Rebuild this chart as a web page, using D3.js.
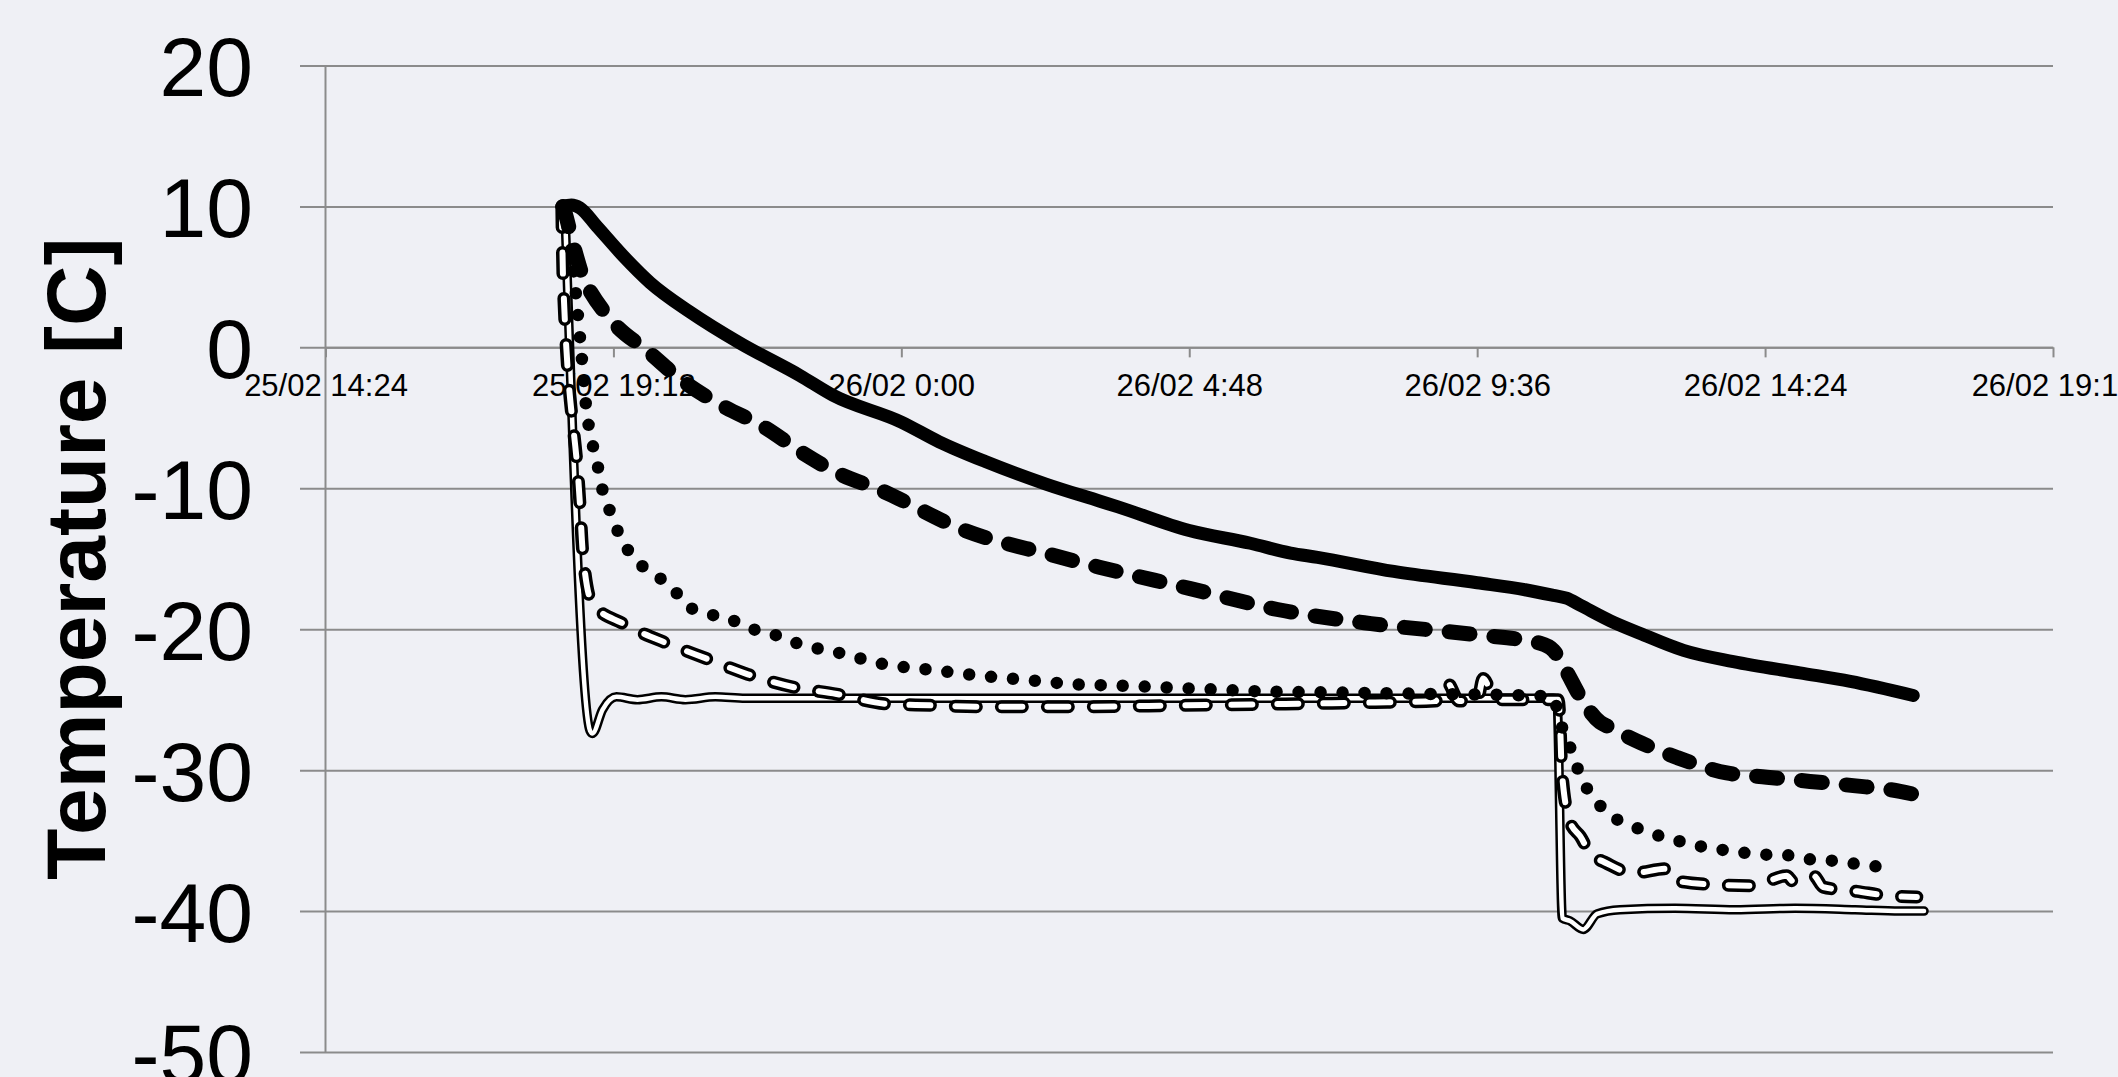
<!DOCTYPE html>
<html>
<head>
<meta charset="utf-8">
<script src="https://cdn.jsdelivr.net/npm/d3@7"></script>
<style>
  html, body { margin: 0; padding: 0; overflow: hidden; background: #eff0f5; }
  svg { display: block; }
</style>
</head>
<body>
<svg id="chart" width="2118" height="1077"></svg>
<script>
// ---------- DATA (time in hours since 25/02 14:24, temperature in °C) ----------
const xTickHours = [0, 4.8, 9.6, 14.4, 19.2, 24, 28.8];
const xTickLabels = ["25/02 14:24", "25/02 19:12", "26/02 0:00", "26/02 4:48", "26/02 9:36", "26/02 14:24", "26/02 19:12"];
const yTickValues = [20, 10, 0, -10, -20, -30, -40, -50];
const yTickLabels = ["20", "10", "0", "-10", "-20", "-30", "-40", "-50"];
const yTitle = "Temperature [C]";

// thick solid line
const seriesSolid = [[3.94,10.0],[4.1,10.1],[4.24,9.9],[4.52,8.6],[4.96,6.5],[5.41,4.6],[6.08,2.5],[6.91,0.3],[7.91,-2.0],[8.46,-3.4],[9.6,-5.3],[10.23,-6.7],[11.0,-8.1],[12.01,-9.7],[12.9,-10.9],[13.2,-11.3],[14.4,-13.0],[15.42,-13.9],[16.09,-14.6],[16.54,-14.9],[17.81,-15.9],[19.2,-16.7],[20.0,-17.2],[20.47,-17.6],[20.69,-17.8],[20.92,-18.3],[21.42,-19.4],[21.92,-20.3],[22.64,-21.5],[23.47,-22.3],[24.58,-23.1],[25.42,-23.7],[26.47,-24.7]];
// thick dashed line
const seriesDashed = [[3.96,10.0],[3.99,9.6],[4.13,7.3],[4.33,4.6],[4.41,4.0],[4.79,1.8],[5.38,-0.3],[5.96,-2.4],[6.64,-4.2],[7.29,-5.6],[7.96,-7.5],[8.53,-8.9],[9.29,-10.2],[9.49,-10.6],[10.6,-12.9],[12.08,-14.7],[12.9,-15.6],[14.4,-17.1],[15.87,-18.6],[17.43,-19.6],[19.2,-20.4],[20.25,-21.0],[20.47,-21.5],[20.69,-23.0],[20.92,-24.8],[21.25,-26.6],[21.38,-26.9],[21.95,-28.1],[22.53,-29.1],[23.36,-30.2],[24.03,-30.5],[24.75,-30.8],[25.47,-31.1],[26.25,-31.5],[26.47,-31.7]];
// dotted line
const seriesDotted = [[3.96,10.0],[4.10,6.8],[4.19,3.1],[4.27,-0.6],[4.35,-4.4],[4.41,-6.1],[4.52,-8.0],[4.60,-9.8],[4.74,-11.6],[4.91,-13.4],[5.13,-14.9],[5.44,-16.0],[5.77,-17.0],[6.02,-18.3],[6.38,-18.9],[6.74,-19.3],[7.13,-20.0],[7.49,-20.4],[7.86,-21.0],[8.58,-21.7],[9.33,-22.5],[10.13,-22.9],[10.91,-23.3],[11.69,-23.6],[12.46,-23.9],[13.21,-24.0],[14.4,-24.2],[15.5,-24.4],[17.0,-24.5],[18.5,-24.6],[20.0,-24.7],[20.45,-24.8],[20.61,-26.9],[20.78,-28.7],[20.92,-30.4],[21.15,-32.0],[21.42,-33.2],[21.75,-33.9],[22.11,-34.5],[22.45,-34.9],[22.8,-35.3],[23.19,-35.6],[23.55,-35.8],[23.92,-36.0],[24.28,-36.0],[24.67,-36.3],[25.06,-36.4],[25.42,-36.6],[25.78,-36.8],[26.14,-36.9]];
// hollow dashed line
const seriesHollowDashed = [[3.94,10.0],[3.96,5.0],[4.24,-11.0],[4.29,-14.6],[4.45,-18.2],[4.96,-19.6],[5.69,-21.0],[6.36,-22.1],[7.04,-23.2],[7.79,-24.1],[8.52,-24.6],[9.36,-25.3],[10.08,-25.4],[10.86,-25.5],[11.69,-25.5],[12.52,-25.5],[14.3,-25.4],[16.0,-25.3],[17.5,-25.2],[18.5,-25.1],[18.7,-23.8],[18.9,-25.1],[19.2,-25.1],[19.3,-23.5],[19.5,-25.0],[20.3,-25.0],[20.55,-25.0],[20.58,-26.5],[20.61,-30.0],[20.75,-33.7],[20.92,-34.7],[21.13,-36.2],[21.25,-36.4],[21.8,-37.3],[22.36,-37.0],[22.47,-37.8],[23.05,-38.1],[23.8,-38.2],[24.36,-37.5],[24.47,-37.9],[24.81,-37.5],[24.97,-38.3],[25.53,-38.6],[26.03,-38.9],[26.53,-39.0]];
// hollow solid line (air)
const seriesHollowSolid = [[3.99,10.0],[4.41,-27.2],[4.45,-27.4],[4.62,-25.7],[4.85,-24.8],[5.2,-25.0],[5.6,-24.8],[6.0,-25.0],[6.5,-24.8],[7.0,-24.9],[8.0,-24.9],[9.0,-24.9],[10.0,-24.9],[12.0,-24.9],[14.0,-24.9],[16.0,-24.9],[18.0,-24.9],[20.47,-24.9],[20.53,-25.0],[20.62,-40.5],[20.75,-40.7],[20.97,-41.3],[21.2,-40.2],[21.58,-39.9],[22.5,-39.8],[23.5,-39.9],[24.5,-39.8],[25.5,-39.9],[26.25,-40.0],[26.65,-40.0]];

// ---------- CHART ----------
const W = 2118, H = 1077;
const baseTime = new Date(2013, 1, 25, 14, 24);
const toDate = h => new Date(baseTime.getTime() + h * 3600000);

const plotLeft = 325.5, plotRight = 2053, plotTop = 65.5, plotBottom = 1052;
const gridStart = 300;
const gray = "#8b8b8b";
const font = "'Liberation Sans', Arial, Helvetica, sans-serif";

const x = d3.scaleTime().domain([toDate(0), toDate(28.8)]).range([plotLeft, plotRight]);
const y = d3.scaleLinear().domain([-50, 20]).range([plotBottom, plotTop]);

const svg = d3.select("#chart");
svg.append("rect").attr("width", W).attr("height", H).attr("fill", "#eff0f5");

// horizontal gridlines + y tick labels
const yAxis = d3.axisLeft(y)
  .tickValues(yTickValues)
  .tickFormat((d, i) => yTickLabels[i])
  .tickSize(-(plotRight - gridStart))
  .tickPadding(47);
const gy = svg.append("g").attr("transform", `translate(${gridStart},0)`).call(yAxis);
gy.select(".domain").remove();
gy.selectAll(".tick line").attr("stroke", gray).attr("stroke-width", 2);
gy.selectAll(".tick text")
  .attr("font-family", font).attr("font-size", 84).attr("fill", "#000")
  .attr("dy", "0.36em");

// vertical y axis line
svg.append("line")
  .attr("x1", plotLeft).attr("x2", plotLeft)
  .attr("y1", y(20)).attr("y2", y(-50))
  .attr("stroke", gray).attr("stroke-width", 2);

// x axis at y = 0
const xAxis = d3.axisBottom(x)
  .tickValues(xTickHours.map(toDate))
  .tickFormat((d, i) => xTickLabels[i])
  .tickSize(10)
  .tickSizeOuter(0)
  .tickPadding(17);
const gx = svg.append("g").attr("transform", `translate(0,${y(0)})`).call(xAxis);
gx.select(".domain").attr("stroke", gray).attr("stroke-width", 2);
gx.selectAll(".tick line").attr("stroke", gray).attr("stroke-width", 2);
gx.selectAll(".tick text")
  .attr("font-family", font).attr("font-size", 31).attr("fill", "#000");

// y title
svg.append("text")
  .attr("transform", `translate(105,${(plotTop + plotBottom) / 2}) rotate(-90)`)
  .attr("text-anchor", "middle")
  .attr("font-family", font).attr("font-weight", "bold").attr("font-size", 84)
  .attr("fill", "#000")
  .text(yTitle);

// lines
const line = d3.line()
  .x(d => x(toDate(d[0])))
  .y(d => y(d[1]))
  .curve(d3.curveMonotoneX);

const g = svg.append("g").attr("fill", "none")
  .attr("stroke-linecap", "round").attr("stroke-linejoin", "round");

// hollow solid (air)
g.append("path").attr("d", line(seriesHollowSolid))
  .attr("stroke", "#000").attr("stroke-width", 9.5);
g.append("path").attr("d", line(seriesHollowSolid))
  .attr("stroke", "#fff").attr("stroke-width", 4.5);

// hollow dashed
g.append("path").attr("d", line(seriesHollowDashed))
  .attr("stroke", "#000").attr("stroke-width", 13).attr("stroke-dasharray", "21,25");
g.append("path").attr("d", line(seriesHollowDashed))
  .attr("stroke", "#fff").attr("stroke-width", 6).attr("stroke-dasharray", "21,25");

// dotted
g.append("path").attr("d", line(seriesDotted))
  .attr("stroke", "#000").attr("stroke-width", 12.5).attr("stroke-dasharray", "0,22");

// thick dashed
g.append("path").attr("d", line(seriesDashed))
  .attr("stroke", "#000").attr("stroke-width", 15).attr("stroke-dasharray", "21,24");

// thick solid
g.append("path").attr("d", line(seriesSolid))
  .attr("stroke", "#000").attr("stroke-width", 13);
</script>
</body>
</html>
